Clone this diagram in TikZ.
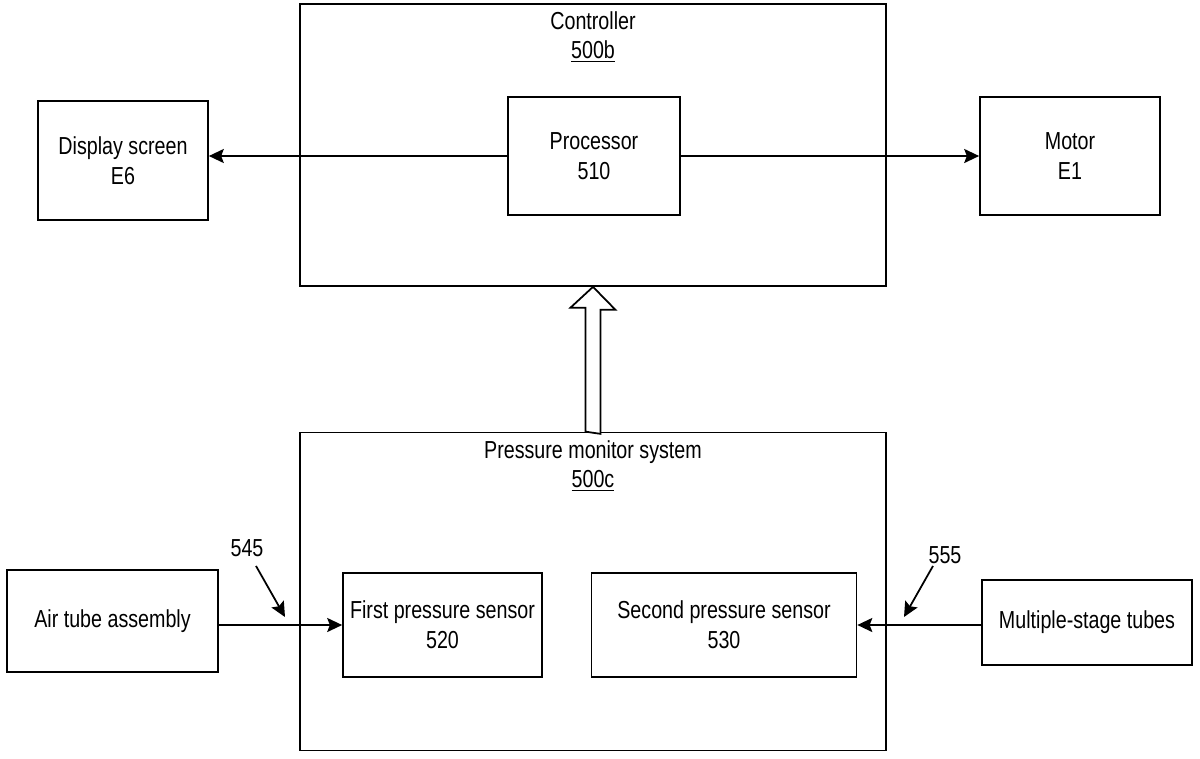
\documentclass[tikz,border=0pt]{standalone}
\usepackage{fontspec}
\setmainfont{Liberation Sans}[FakeStretch=0.8]
\usetikzlibrary{arrows.meta,positioning,calc}

\begin{document}
\begin{tikzpicture}[
  x=0.02cm,y=-0.02cm,
  font=\fontsize{14}{17}\selectfont,
  >={Stealth[length=8.5pt,width=8pt,inset=1.5pt]},
  block/.style={draw,line width=1pt,align=center,inner sep=2pt},
  title/.style={align=center,inner sep=0pt},
  arrow/.style={->,line width=1pt},
  hollow/.style={draw,line width=1pt,fill=white,line join=miter}
]
  \useasboundingbox (0,0) rectangle (1200,758);

  % controller side
  \node[block,minimum width=11.72cm,minimum height=5.64cm] (ctrl) at (593,145) {};
  \node[title] (ctrltitle) at (593,37) {Controller\\\underline{500b}};
  \node[block,minimum width=3.44cm,minimum height=2.36cm] (proc) at (594,156) {Processor\\510};
  \node[block,minimum width=3.4cm,minimum height=2.38cm] (disp) at (123,160.5) {Display screen\\E6};
  \node[block,minimum width=3.6cm,minimum height=2.36cm] (motor) at (1070,156) {Motor\\E1};

  % pressure side
  \node[block,minimum width=11.72cm,minimum height=6.36cm] (pms) at (593,591.5) {};
  \node[title] (pmstitle) at (593,466) {Pressure monitor system\\\underline{500c}};
  \node[block,minimum width=3.98cm,minimum height=2.08cm] (fps) at (442.5,625) {First pressure sensor\\520};
  \node[block,minimum width=5.3cm,minimum height=2.08cm] (sps) at (724,625) {Second pressure sensor\\530};
  \node[block,minimum width=4.22cm,minimum height=2.04cm] (air) at (112.5,621) {Air tube assembly};
  \node[block,minimum width=4.2cm,minimum height=1.7cm] (multi) at (1087,622.5) {Multiple-stage tubes};

  \node[title] (n545) at (247,548) {545};
  \node[title] (n555) at (945,555) {555};
  \coordinate (p545) at (285,617);
  \coordinate (p555) at (904,617);

  \draw[arrow] (proc.west) -- (proc.west -| disp.east);
  \draw[arrow] (proc.east) -- (proc.east -| motor.west);
  \draw[arrow] (fps.west -| air.east) -- (fps.west);
  \draw[arrow] (sps.east -| multi.west) -- (sps.east);
  \draw[arrow] ($(n545.south)+(9,9)$) -- (p545);
  \draw[arrow] ($(n555.south)+(-12,2)$) -- (p555);

  % hollow data arrow
  \draw[hollow] (pms.north) ++(-7.5,0) -- ++(0,-124) -- ++(-15,0) -- (ctrl.south)
    -- ++(22.5,23) -- ++(-15,0) -- ++(0,124) -- cycle;
\end{tikzpicture}
\end{document}
